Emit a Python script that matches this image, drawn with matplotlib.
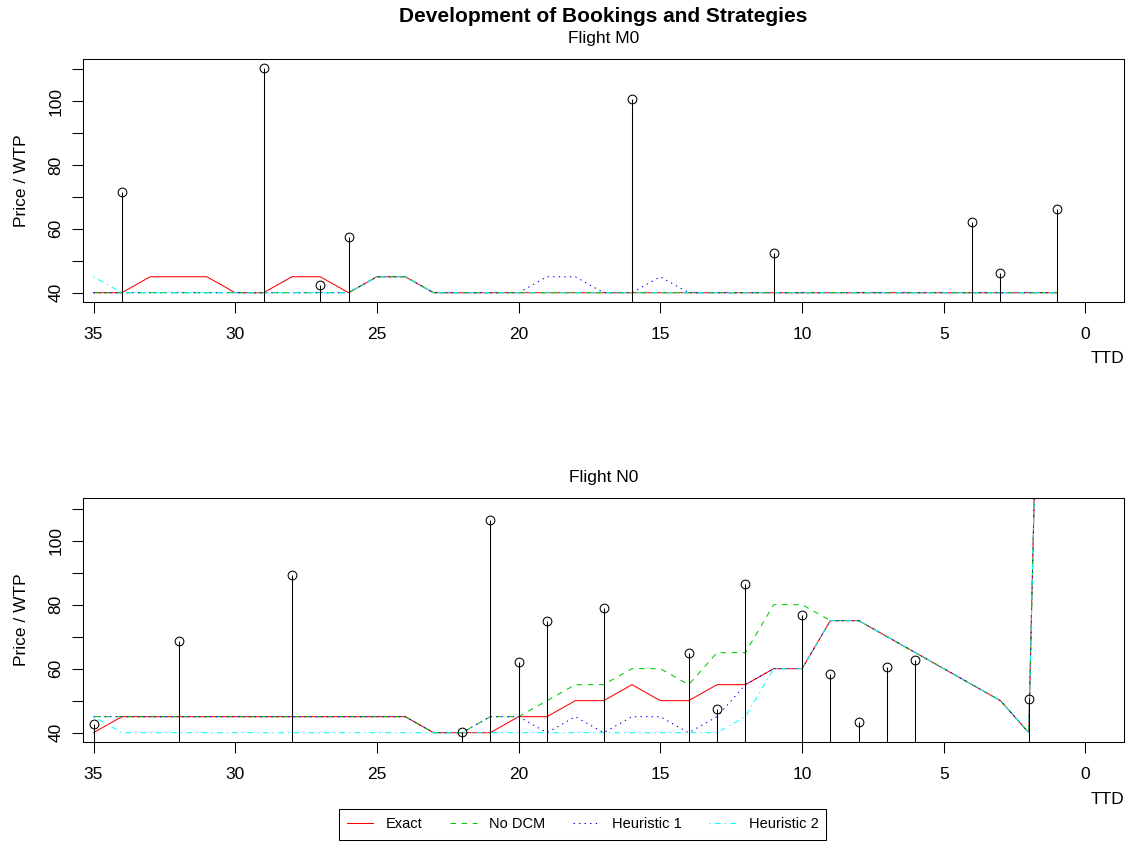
import matplotlib
matplotlib.use("Agg")
import matplotlib.pyplot as plt

plt.rcParams['font.family'] = ['Liberation Sans', 'DejaVu Sans']
plt.rcParams['lines.scale_dashes'] = False

# ---------------- data ----------------
ttd = [35, 34, 33, 32, 31, 30, 29, 28, 27, 26, 25, 24, 23, 22, 21, 20, 19, 18,
       17, 16, 15, 14, 13, 12, 11, 10, 9, 8, 7, 6, 5, 4, 3, 2, 1]

# Flight M0 strategies (price per TTD)
m0_exact = [40, 40, 45, 45, 45, 40, 40, 45, 45, 40, 45, 45, 40, 40, 40, 40, 40, 40,
            40, 40, 40, 40, 40, 40, 40, 40, 40, 40, 40, 40, 40, 40, 40, 40, 40]
m0_nodcm = [40, 40, 40, 40, 40, 40, 40, 40, 40, 40, 45, 45, 40, 40, 40, 40, 40, 40,
            40, 40, 40, 40, 40, 40, 40, 40, 40, 40, 40, 40, 40, 40, 40, 40, 40]
m0_heur1 = [40, 40, 40, 40, 40, 40, 40, 40, 40, 40, 45, 45, 40, 40, 40, 40, 45, 45,
            40, 40, 45, 40, 40, 40, 40, 40, 40, 40, 40, 40, 40, 40, 40, 40, 40]
m0_heur2 = [45, 40, 40, 40, 40, 40, 40, 40, 40, 40, 45, 45, 40, 40, 40, 40, 40, 40,
            40, 40, 40, 40, 40, 40, 40, 40, 40, 40, 40, 40, 40, 40, 40, 40, 40]

# Flight M0 bookings
m0_book_ttd = [34, 29, 27, 26, 16, 11, 4, 3, 1]
m0_book_wtp = [71.7, 110.4, 42.4, 57.4, 100.7, 52.3, 62.3, 46.1, 66.3]

# Flight N0 strategies
n0_exact = [40, 45, 45, 45, 45, 45, 45, 45, 45, 45, 45, 45, 40, 40, 40, 45, 45, 50,
            50, 55, 50, 50, 55, 55, 60, 60, 75, 75, 70, 65, 60, 55, 50, 40, 425]
n0_nodcm = [45, 45, 45, 45, 45, 45, 45, 45, 45, 45, 45, 45, 40, 40, 45, 45, 50, 55,
            55, 60, 60, 55, 65, 65, 80, 80, 75, 75, 70, 65, 60, 55, 50, 40, 425]
n0_heur1 = [45, 45, 45, 45, 45, 45, 45, 45, 45, 45, 45, 45, 40, 40, 45, 45, 40, 45,
            40, 45, 45, 40, 45, 55, 60, 60, 75, 75, 70, 65, 60, 55, 50, 40, 425]
n0_heur2 = [45, 40, 40, 40, 40, 40, 40, 40, 40, 40, 40, 40, 40, 40, 40, 40, 40, 40,
            40, 40, 40, 40, 40, 45, 60, 60, 75, 75, 70, 65, 60, 55, 50, 40, 425]

# Flight N0 bookings
n0_book_ttd = [35, 32, 28, 22, 21, 20, 19, 17, 14, 13, 12, 10, 9, 8, 7, 6, 2]
n0_book_wtp = [42.6, 68.5, 89.2, 40.2, 106.3, 62.1, 74.9, 78.8, 65.0, 47.3, 86.3,
               76.7, 58.2, 43.4, 60.5, 62.7, 50.6]

series_names = ["Exact", "No DCM", "Heuristic 1", "Heuristic 2"]
series_colors = ["#FF0000", "#00CD00", "#0000FF", "#00FFFF"]
series_styles = ["-", (0, (4, 4)), (0, (1, 3)), (0, (1, 3, 4, 3))]

x_ticks = [35, 30, 25, 20, 15, 10, 5, 0]
y_ticks = [40, 50, 60, 70, 80, 90, 100, 110]
y_ticklabels = ["40", "", "60", "", "80", "", "100", ""]

# ---------------- layout ----------------
W, H = 1130, 844
fig = plt.figure(figsize=(W / 100, H / 100), dpi=100)

def fx(px):
    return px / W

def fy(py):
    return 1 - py / H

LEFT, RIGHT = 83.3, 1124.0
panels = [
    (59.0, 301.7, "Flight M0", [m0_exact, m0_nodcm, m0_heur1, m0_heur2], m0_book_ttd, m0_book_wtp),
    (498.3, 741.7, "Flight N0", [n0_exact, n0_nodcm, n0_heur1, n0_heur2], n0_book_ttd, n0_book_wtp),
]

# shared y range (R-style 4% expansion around data range)
all_wtp = m0_book_wtp + n0_book_wtp
ylo = min(min(m0_exact), min(n0_exact))
yhi = max(all_wtp)
pad = 0.04 * (yhi - ylo)
YLIM = (ylo - pad, yhi + pad)
XLIM = (35.36, -1.36)

LW = 0.75
handles = []
for top, bottom, ttl, series, bttd, bwtp in panels:
    ax = fig.add_axes([fx(LEFT), fy(bottom), fx(RIGHT) - fx(LEFT), fy(top) - fy(bottom)])
    for vals, name, col, ls in zip(series, series_names, series_colors, series_styles):
        ln, = ax.plot(ttd, vals, color=col, linestyle=ls, lw=LW, label=name)
        if ttl == "Flight N0":
            handles.append(ln)
    ax.vlines(bttd, 0, bwtp, colors="black", lw=LW, zorder=5)
    ax.plot(bttd, bwtp, linestyle="none", marker="o", ms=6.3, mfc="none",
            mec="black", mew=LW, zorder=6)
    ax.set_xlim(*XLIM)
    ax.set_ylim(*YLIM)
    ax.set_xticks(x_ticks)
    ax.set_xticklabels([str(t) for t in x_ticks])
    ax.set_yticks(y_ticks)
    ax.set_yticklabels(y_ticklabels)
    ax.tick_params(axis="both", length=8, width=LW, labelsize=12.5, color="black")
    ax.tick_params(axis="x", pad=10)
    ax.tick_params(axis="y", pad=6.5, labelrotation=90)
    for lab in ax.get_yticklabels():
        lab.set_va("center")
    for sp in ax.spines.values():
        sp.set_linewidth(LW)
        sp.set_color("black")
    ax.set_ylabel("Price / WTP", fontsize=12.5)
    ax.yaxis.set_label_coords(-0.052, 0.5)
    ax.set_xlabel("TTD", fontsize=12.5, loc="right")
    ax.xaxis.set_label_coords(1.0, -0.205)
    ax.xaxis.label.set_ha("right")
    fig.text(fx((LEFT + RIGHT) / 2), fy(top - 21), ttl, ha="center", va="center", fontsize=12.5)

fig.text(fx((LEFT + RIGHT) / 2), fy(17), "Development of Bookings and Strategies",
         ha="center", va="center", fontsize=15, fontweight="bold")

leg = fig.legend(handles=handles, labels=series_names, loc="center",
                 bbox_to_anchor=(fx(582.5), fy(824.5)), ncol=4, fontsize=10.5,
                 frameon=True, fancybox=False, edgecolor="black", framealpha=1,
                 handlelength=1.83, handletextpad=0.87, columnspacing=1.87,
                 borderpad=0.55)
leg.get_frame().set_linewidth(LW)

fig.savefig("out.png", dpi=100)
